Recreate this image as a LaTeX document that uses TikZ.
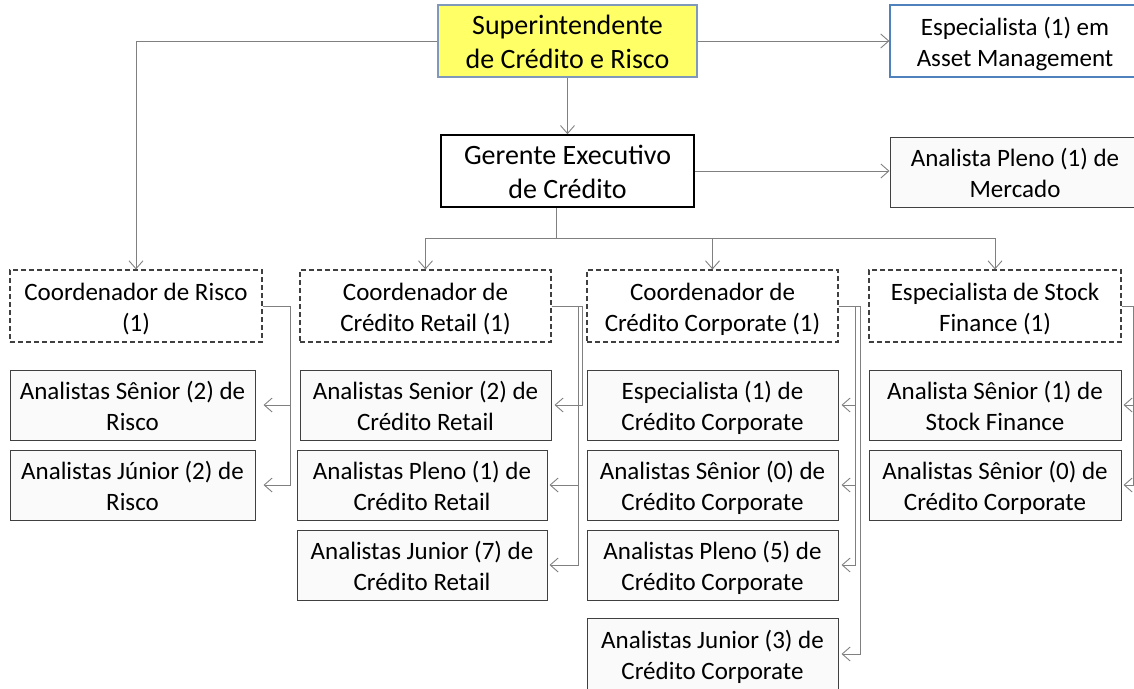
\documentclass[tikz,border=0pt]{standalone}
\usepackage{fontspec}
\setmainfont{Carlito}
\usetikzlibrary{arrows.meta}
\definecolor{supfill}{HTML}{FFFF66}
\definecolor{supdraw}{HTML}{8099BB}
\definecolor{amdraw}{HTML}{4F81BD}
\definecolor{boxdraw}{HTML}{404040}
\definecolor{boxfill}{HTML}{FAFAFA}
\definecolor{linegray}{HTML}{808080}
\tikzset{
  base/.style={rectangle, inner sep=0pt, align=center, font=\fontsize{25}{31}\selectfont, text=black,
               text height=57pt, text depth=6pt},
  titletext/.style={font=\fontsize{28}{34}\selectfont, text height=63pt, text depth=8pt},
  solidbox/.style={base, draw=boxdraw, fill=boxfill, line width=1pt},
  dashbox/.style={base, draw=boxdraw, fill=white, line width=1.1pt, dash pattern=on 5pt off 3pt},
  conn/.style={draw=linegray, line width=0.9pt, -{Straight Barb[length=8pt,width=14pt,line width=0.9pt]}},
}
\begin{document}
\begin{tikzpicture}[x=1pt,y=-1pt]
\useasboundingbox (0,0) rectangle (1134,688);
% top row
\node[base, titletext, draw=supdraw, fill=supfill, line width=1.2pt, minimum width=259pt, minimum height=72pt] (sup) at (567.5,41) {Superintendente\\de Crédito e Risco};
\node[base, draw=amdraw, fill=white, line width=1.2pt, minimum width=250pt, minimum height=72pt] (am) at (1015,41) {Especialista (1) em\\Asset Management};
\node[base, titletext, draw=black, fill=white, line width=1.6pt, minimum width=253pt, minimum height=72pt] (ger) at (567.5,171) {Gerente Executivo\\de Crédito};
\node[solidbox, minimum width=250pt, minimum height=70pt] (apm) at (1015,172) {Analista Pleno (1) de\\Mercado};
% coordinators
\node[dashbox, minimum width=252pt, minimum height=72pt] (crisk) at (136,306) {Coordenador de Risco\\(1)};
\node[dashbox, minimum width=251pt, minimum height=72pt] (cret) at (425.5,306) {Coordenador de\\Crédito Retail (1)};
\node[dashbox, minimum width=251pt, minimum height=72pt] (ccorp) at (712.5,306) {Coordenador de\\Crédito Corporate (1)};
\node[dashbox, minimum width=252pt, minimum height=72pt] (cstock) at (995,306) {Especialista de Stock\\Finance (1)};
% risco
\node[solidbox, minimum width=245pt, minimum height=70pt] (srisk) at (132.5,405) {Analistas Sênior (2) de\\Risco};
\node[solidbox, minimum width=245pt, minimum height=70pt] (jrisk) at (132.5,485) {Analistas Júnior (2) de\\Risco};
% retail
\node[solidbox, minimum width=251pt, minimum height=70pt] (sret) at (425.5,405) {Analistas Senior (2) de\\Crédito Retail};
\node[solidbox, minimum width=250pt, minimum height=70pt] (pret) at (422,485) {Analistas Pleno (1) de\\Crédito Retail};
\node[solidbox, minimum width=250pt, minimum height=70pt] (jret) at (422,565) {Analistas Junior (7) de\\Crédito Retail};
% corporate
\node[solidbox, minimum width=251pt, minimum height=70pt] (ecorp) at (712.5,405) {Especialista (1) de\\Crédito Corporate};
\node[solidbox, minimum width=251pt, minimum height=70pt] (scorp) at (712.5,485) {Analistas Sênior (0) de\\Crédito Corporate};
\node[solidbox, minimum width=251pt, minimum height=70pt] (pcorp) at (712.5,565) {Analistas Pleno (5) de\\Crédito Corporate};
\node[solidbox, minimum width=251pt, minimum height=72pt] (jcorp) at (712.5,654) {Analistas Junior (3) de\\Crédito Corporate};
% stock
\node[solidbox, minimum width=252pt, minimum height=70pt] (sstock) at (995,405) {Analista Sênior (1) de\\Stock Finance};
\node[solidbox, minimum width=252pt, minimum height=70pt] (s0stock) at (995,485) {Analistas Sênior (0) de\\Crédito Corporate};
% connectors top
\draw[conn] (sup.west) -| (crisk.north);
\draw[conn] (sup.east) -- (am.west);
\draw[conn] (sup.south) -- (ger.north);
\draw[conn] (ger.east) -- (ger.east -| apm.west);
\coordinate (gb) at (556,238);
\draw[draw=linegray, line width=0.9pt] (ger.south -| gb) -- (gb);
\draw[conn] (gb) -| (cret.north);
\draw[conn] (gb) -| (ccorp.north);
\draw[conn] (gb) -| (cstock.north);
% risco
\draw[conn, shorten >=8pt] (crisk.east) -- ++(28,0) |- (srisk.east);
\draw[conn, shorten >=8pt] (crisk.east) -- ++(28,0) |- (jrisk.east);
% retail
\draw[conn, shorten >=3pt] (cret.east) -- ++(31,0) |- (sret.east);
\draw[conn, shorten >=2pt] (cret.east) -- ++(27,0) |- (pret.east);
\draw[conn, shorten >=2pt] (cret.east) -- ++(27,0) |- (jret.east);
% corporate
\draw[conn, shorten >=3pt] (ccorp.east) -- ++(17,0) |- (ecorp.east);
\draw[conn, shorten >=3pt] (ccorp.east) -- ++(17,0) |- (scorp.east);
\draw[conn, shorten >=3pt] (ccorp.east) -- ++(17,0) |- (pcorp.east);
\draw[conn, shorten >=3pt] (ccorp.east) -- ++(22,0) |- (jcorp.east);
% stock
\draw[conn, shorten >=2pt] (cstock.east) -- ++(12,0) |- (sstock.east);
\draw[conn, shorten >=2pt] (cstock.east) -- ++(12,0) |- (s0stock.east);
\end{tikzpicture}
\end{document}
